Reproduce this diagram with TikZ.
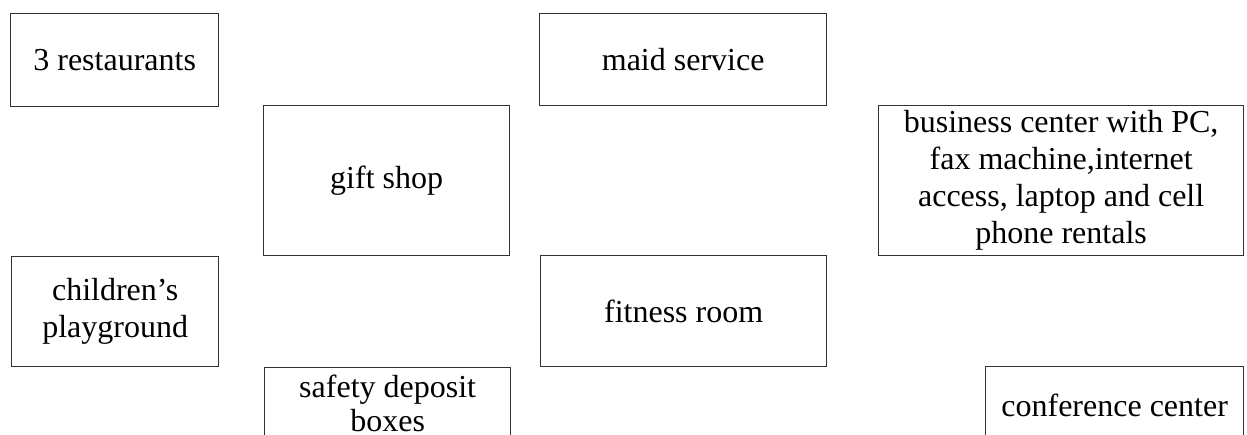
\documentclass[tikz,border=0pt]{standalone}
\usepackage{fontspec}
\setmainfont{Liberation Serif}
\begin{document}
\begin{tikzpicture}[x=1pt,y=-1pt,
  box/.style={draw=black!80, line width=1.3pt, anchor=north west, inner sep=0pt,
    align=center, font=\fontsize{32}{37}\selectfont}]
\useasboundingbox (0,0) rectangle (1247,435);
\fill[white] (0,0) rectangle (1247,435);
\clip (0,0) rectangle (1247,435);
\node[box, minimum width=208pt, minimum height=93pt] (rest) at (10,13) {3 restaurants};
\node[box, minimum width=287pt, minimum height=92pt] (maid) at (539,13) {maid service};
\node[box, minimum width=246pt, minimum height=150pt] (gift) at (263,105) {gift shop};
\node[box, minimum width=365pt, minimum height=150pt] (biz) at (878,105) {business center with PC,\\fax machine,internet\\access, laptop and cell\\phone rentals};
\node[box, minimum width=207pt, minimum height=110pt] (child) at (11,256) {children's\\playground};
\node[box, minimum width=286pt, minimum height=111pt] (fit) at (540,255) {fitness room};
\node[box, minimum width=246pt, minimum height=72pt, font=\fontsize{32}{34}\selectfont] (safe) at (264,367) {safety deposit\\boxes};
\node[box, minimum width=258pt, minimum height=78pt] (conf) at (985,366) {conference center};
\end{tikzpicture}
\end{document}
